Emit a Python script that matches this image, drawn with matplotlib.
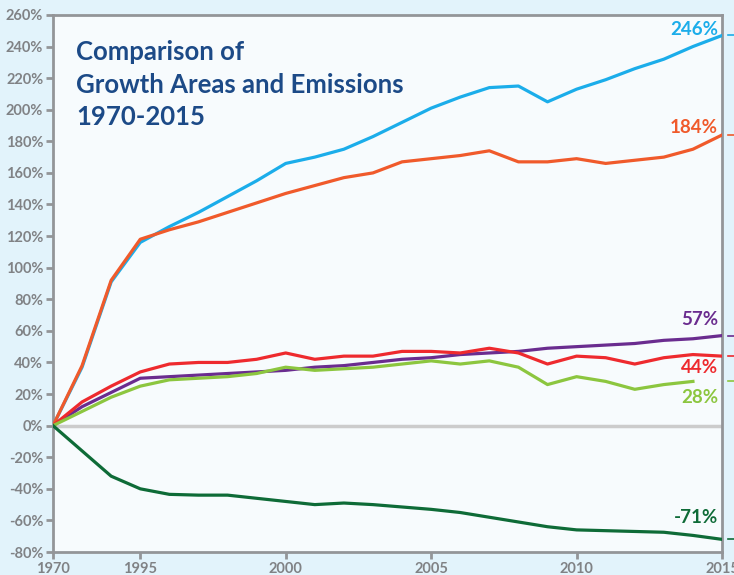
import numpy as np
import matplotlib.pyplot as plt

# x positions are just indexes, the first stretch (1970-1995) is squeezed like in the original
years = ['1970', '1980', '1990', '1995', '1996', '1997', '1998', '1999', '2000', '2001', '2002',
         '2003', '2004', '2005', '2006', '2007', '2008', '2009', '2010', '2011', '2012', '2013',
         '2014', '2015']
tick_years = ['1970', '1995', '2000', '2005', '2010', '2015']

blue = [0, 37, 91, 116, 126, 135, 145, 155, 166, 170, 175, 183, 192, 201, 208, 214, 215, 205,
        213, 219, 226, 232, 240, 247]
orange = [0, 38, 92, 118, 124, 129, 135, 141, 147, 152, 157, 160, 167, 169, 171, 174, 167, 167,
          169, 166, 168, 170, 175, 184]
purple = [0, 12, 21, 30, 31, 32, 33, 34, 35, 37, 38, 40, 42, 43, 45, 46, 47, 49, 50, 51, 52, 54,
          55, 57]
red = [0, 15, 25, 34, 39, 40, 40, 42, 46, 42, 44, 44, 47, 47, 46, 49, 46, 39, 44, 43, 39, 43,
       45, 44]
lgreen = [0, 9, 18, 25, 29, 30, 31, 33, 37, 35, 36, 37, 39, 41, 39, 41, 37, 26, 31, 28, 23, 26,
          28]
dgreen = [0, -16, -32, -40, -43.5, -44, -44, -46, -48, -50, -49, -50, -51.5, -53, -55, -58, -61,
          -64, -66, -66.5, -67, -67.5, -69.5, -72]

series = [
    (blue, '#1badea', '246%'),
    (orange, '#f05a2b', '184%'),
    (purple, '#6a2c8f', '57%'),
    (red, '#ee2a2e', '44%'),
    (lgreen, '#8cc63f', '28%'),
    (dgreen, '#0e6b37', '-71%'),
]
label_y = {'246%': 251, '184%': 189, '57%': 67, '44%': 37, '28%': 18, '-71%': -58}

plt.rcParams['font.family'] = ['Lato', 'DejaVu Sans']

fig = plt.figure(figsize=(7.34, 5.75), dpi=100)
fig.patch.set_facecolor('#e2f3fb')
ax = fig.add_axes([0.0722, 0.04, 0.9115, 0.934])
ax.set_facecolor('#f7fbfd')

ax.axhline(0, color='#cccccc', lw=2.5, zorder=1)

for vals, col, lab in series:
    x = np.arange(len(vals))
    ax.plot(x, vals, color=col, lw=2.3, zorder=3)
    ax.text(22.86, label_y[lab], lab, color=col, fontsize=13.5, fontweight='bold',
            ha='right', va='center')
    # little coloured tick outside the right edge
    ax.plot([23.2, 23.6], [vals[-1], vals[-1]], color=col, lw=1.2, clip_on=False)

ax.text(0.8, 244, 'Comparison of\nGrowth Areas and Emissions\n1970-2015', color='#1c4a87',
        fontsize=18.5, fontweight='bold', va='top', linespacing=1.42)

ax.set_xlim(0, 23)
ax.set_ylim(-80, 260)
ax.set_xticks([years.index(y) for y in tick_years])
ax.set_xticklabels(tick_years)
ax.set_yticks(np.arange(-80, 261, 20))
ax.set_yticklabels([f'{v}%' for v in range(-80, 261, 20)])

for s in ax.spines.values():
    s.set_color('#939598')
    s.set_linewidth(2)
ax.tick_params(colors='#939598', length=5, width=2, labelsize=10.5, pad=2)
for t in ax.get_xticklabels() + ax.get_yticklabels():
    t.set_color('#808285')
    t.set_fontweight('bold')

plt.savefig('out.png', dpi=100, facecolor=fig.get_facecolor())
